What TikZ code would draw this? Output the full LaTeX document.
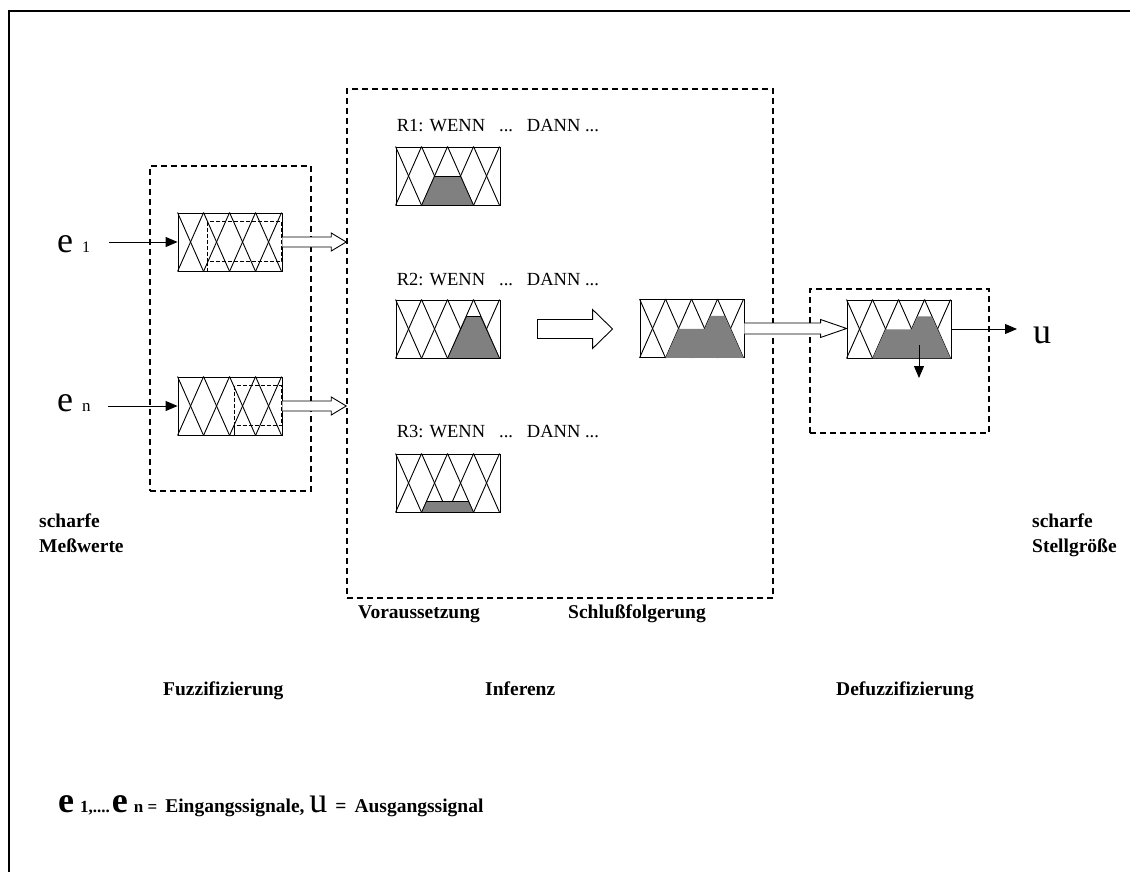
\documentclass[tikz,border=0pt]{standalone}
\usepackage{fontspec}
\setmainfont{Liberation Serif}
\usepackage{tikz}
\usetikzlibrary{calc,arrows.meta,positioning}
\definecolor{fuzzgray}{HTML}{808080}
\tikzset{
  stage/.style={draw,line width=1.5pt,dash pattern=on 6pt off 4pt},
  fset/.style={draw,line width=0.9pt,minimum width=104pt,minimum height=58pt,inner sep=0pt},
  sig/.style={-{Triangle[length=12pt,width=10pt]},line width=0.9pt},
  hollow/.style={draw,line width=0.9pt,fill=white},
  rlabel/.style={font=\fontsize{18.5}{22}\selectfont,inner sep=0pt,anchor=base west},
  blabel/.style={font=\fontsize{19.5}{25}\selectfont\bfseries,inner sep=0pt,align=left},
  grayfill/.style={fill=fuzzgray},
  inner/.style={line width=0.8pt,dash pattern=on 4pt off 2pt}
}
\newcommand\bigsym{\fontsize{36}{40}\selectfont}
% X pattern of the four cells in a fuzzy set box
\newcommand\fzgrid[1]{%
  \foreach \k in {0,26,52,78}{
    \draw[line width=0.9pt] ($(#1.north west)+(\k,0)$) -- ($(#1.south west)+(\k+26,0)$);
    \draw[line width=0.9pt] ($(#1.south west)+(\k,0)$) -- ($(#1.north west)+(\k+26,0)$);}}
% hollow arrow: from, to, half shaft, half head, head length, end
\newcommand\hollowarr[6]{%
  \path[hollow] let \p1=(#1), \p2=(#2) in
    (\x1,\y1+#3pt) -- (\x2-#5pt,\y1+#3pt) -- (\x2-#5pt,\y1+#4pt) -- (\x2,\y1)
    -- (\x2-#5pt,\y1-#4pt) -- (\x2-#5pt,\y1-#3pt) -- (\x1,\y1-#3pt) #6;}
\begin{document}
\begin{tikzpicture}[x=1pt,y=-1pt]
\useasboundingbox (0,0) rectangle (1130,872);
\draw[line width=2pt] (9,872) -- (9,11) -- (1130,11);
% stages
\node[stage,minimum width=161pt,minimum height=325pt] (fuzz) at (230.5,328.5) {};
\node[stage,minimum width=426pt,minimum height=509pt] (infer) at (560,343.5) {};
\node[stage,minimum width=179pt,minimum height=144pt] (defuzz) at (899.5,361) {};
% fuzzy sets
\node[fset] (f1) at (230,242) {};
\node[fset] (fn) at (230,406) {};
\node[fset] (r1) at (448,176) {};
\node[fset] (r2) at (448,329) {};
\node[fset] (r3) at (448,483) {};
\node[fset] (agg) at (692,328.5) {};
\node[fset] (def) at (899,329) {};
\foreach \b in {f1,fn,r1,r2,r3,agg,def}{\fzgrid{\b}}
% activated parts
\fill[grayfill,draw,line width=0.6pt] ($(r1.south west)+(26,0)$) -- ++(13,-29) -- ++(26,0) -- ++(13,29) -- cycle;
\fill[grayfill,draw,line width=0.6pt] ($(r2.south west)+(52,0)$) -- ++(19,-42) -- ++(14,0) -- ++(19,42) -- cycle;
\fill[grayfill,draw,line width=0.6pt] ($(r3.south west)+(26,0)$) -- ++(5,-11) -- ++(42,0) -- ++(5,11) -- cycle;
\foreach \b in {agg,def}
  \fill[grayfill] ($(\b.south west)+(26,0)$) -- ++(13,-29) -- ++(26,0) -- ++(5.8,-13) -- ++(14.4,0) -- ++(18.8,42) -- cycle;
% measured values
\draw[inner] ($(f1.north west)+(30,9)$) rectangle ($(f1.north west)+(104,49)$);
\draw[inner] ($(f1.north west)+(30,49)$) -- ($(f1.south west)+(30,0)$);
\draw[line width=1.8pt] ($(f1.south west)+(30,0)$) -- (f1.south east);
\draw[inner] ($(fn.north west)+(57,9)$) rectangle ($(fn.north west)+(104,49)$);
\draw[line width=0.9pt] ($(fn.north west)+(57,49)$) -- ($(fn.south west)+(57,0)$);
\draw[line width=1.8pt] ($(fn.south west)+(57,0)$) -- (fn.south east);
% inputs
\node[anchor=base west,inner sep=0pt] (e1) at (57,252) {\bigsym e\hspace{9pt}\fontsize{16}{18}\selectfont 1};
\node[anchor=base west,inner sep=0pt] (en) at (57,411) {\bigsym e\hspace{9pt}\fontsize{17}{18}\selectfont n};
\draw[sig,shorten <=19pt] (e1.east |- f1.west) -- (f1.west);
\draw[sig,shorten <=17pt] (en.east |- fn.west) -- (fn.west);
% hollow arrows
\hollowarr{f1.east}{infer.west |- f1.east}{5}{9}{15}{}
\hollowarr{fn.east}{infer.west |- fn.east}{5}{9}{15}{}
\hollowarr{$(r2.east)+(37,0)$}{$(agg.west)+(-27,0)$}{9.5}{19.5}{20}{-- cycle}
\hollowarr{agg.east}{def.west}{5.5}{9}{26}{}
% output
\node[anchor=base west,inner sep=0pt] (u) at (1033,343) {\bigsym u};
\draw[sig,shorten >=16pt] (def.east) -- (def.east -| u.west);
\coordinate (cog) at ($(def.center)+(20,16)$);
\draw[sig] (cog) -- ++(0,33);
% rules
\node[rlabel] (l1) at ($(r1.north west)+(1,-15)$) {R1: WENN\hspace{14pt}...\hspace{14pt}DANN ...};
\node[rlabel] (l2) at ($(r2.north west)+(1,-14)$) {R2: WENN\hspace{14pt}...\hspace{14pt}DANN ...};
\node[rlabel] (l3) at ($(r3.north west)+(1,-16)$) {R3: WENN\hspace{14pt}...\hspace{14pt}DANN ...};
% captions
\node[blabel,anchor=north west] (mess) at (39,514) {scharfe\\Meßwerte};
\node[blabel,anchor=north west] (stell) at (1032,514) {scharfe\\Stellgröße};
\node[blabel,anchor=base west] (vor) at (358,618) {Voraussetzung};
\node[blabel,anchor=base west] (schl) at (568,618) {Schlußfolgerung};
\node[blabel,anchor=base west] (tfuzz) at (163,695) {Fuzzifizierung};
\node[blabel,anchor=base west] (tinf) at (485,695) {Inferenz};
\node[blabel,anchor=base west] (tdef) at (836,695) {Defuzzifizierung};
\node[blabel,anchor=base west] (legend) at (58,812) {{\bigsym e}\hspace{6pt}{\fontsize{17}{18}\selectfont 1,....}\hspace{2pt}{\bigsym e}\hspace{6pt}{\fontsize{17}{18}\selectfont n =}\hspace{8pt}Eingangssignale, {\bigsym\mdseries u}\hspace{8pt}=\hspace{8pt}Ausgangssignal};
\end{tikzpicture}
\end{document}
